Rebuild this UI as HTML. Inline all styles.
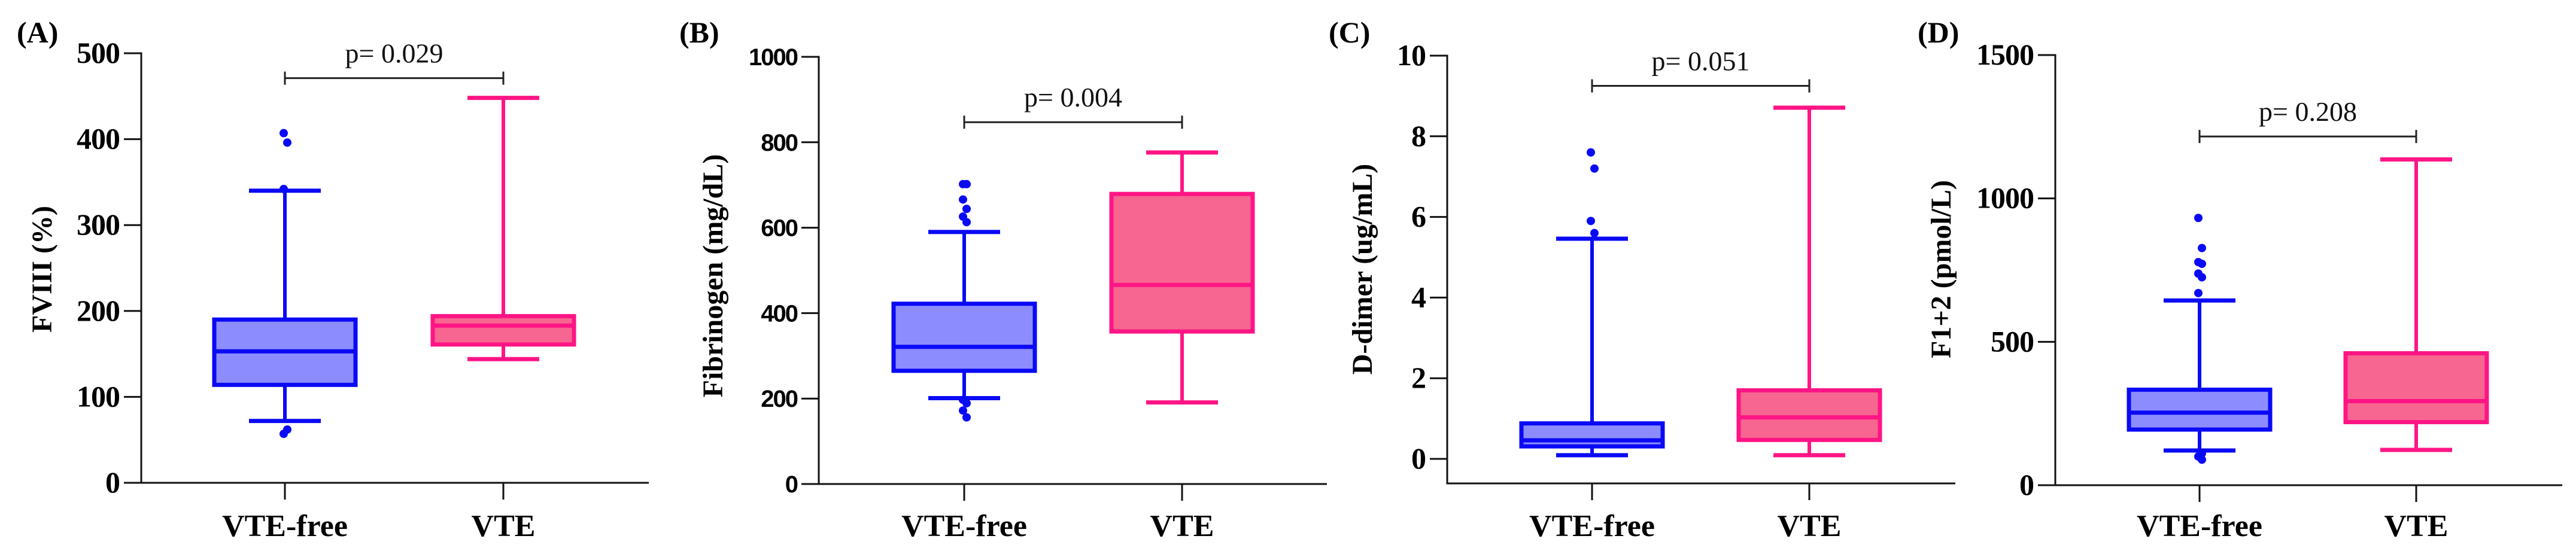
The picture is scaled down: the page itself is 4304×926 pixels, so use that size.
<!DOCTYPE html>
<html><head><meta charset="utf-8"><style>
html,body{margin:0;padding:0;background:#fff;width:4304px;height:926px;overflow:hidden}
svg{display:block}
</style></head><body>
<svg id="fig" xmlns="http://www.w3.org/2000/svg" width="4304" height="926" viewBox="0 0 4304 926"></svg>
<script>
const categories = ["VTE-free", "VTE"];
const panelLetters = ["(A)", "(B)", "(C)", "(D)"];
const yTitles = ["FVIII (%)", "Fibrinogen (mg/dL)", "D-dimer (ug/mL)", "F1+2 (pmol/L)"];
const pLabels = ["p= 0.029", "p= 0.004", "p= 0.051", "p= 0.208"];
const bracketValues = [471, 847, 9.25, 1216];
const yTicksA = [0, 100, 200, 300, 400, 500];
const yTicksB = [0, 200, 400, 600, 800, 1000];
const yTicksC = [0, 2, 4, 6, 8, 10];
const yTicksD = [0, 500, 1000, 1500];
// [VTE-free, VTE]
const whiskerLowA = [72, 144], q1A = [114, 161], medianA = [153, 183], q3A = [190, 194], whiskerHighA = [340, 448];
const outliersA = [[407, 396, 342, 62, 57], []];
const whiskerLowB = [201, 191], q1B = [265, 357], medianB = [321, 466], q3B = [422, 679], whiskerHighB = [590, 776];
const outliersB = [[702, 702, 666, 644, 626, 613, 197, 189, 172, 156], []];
const whiskerLowC = [0.09, 0.09], q1C = [0.31, 0.47], medianC = [0.46, 1.03], q3C = [0.88, 1.70], whiskerHighC = [5.46, 8.71];
const outliersC = [[7.6, 7.2, 5.9, 5.6], []];
const whiskerLowD = [121, 123], q1D = [194, 220], medianD = [253, 293], q3D = [333, 460], whiskerHighD = [644, 1136];
const outliersD = [[932, 827, 778, 772, 738, 725, 670, 111, 100, 89], []];

const layout = [
  {ax:236, zeroY:807, topY:89, max:500, xAxisY:807, xEnd:1084, cx:[476,841], lx:28, tx:70, ty:450, ticks:yTicksA, sans:false},
  {ax:1368, zeroY:809, topY:95, max:1000, xAxisY:809, xEnd:2217, cx:[1611,1975], lx:1135, tx:1191, ty:461, ticks:yTicksB, sans:true},
  {ax:2418, zeroY:767, topY:93, max:10, xAxisY:808, xEnd:3267, cx:[2660,3023], lx:2220, tx:2276, ty:450, ticks:yTicksC, sans:false},
  {ax:3434, zeroY:811, topY:92, max:1500, xAxisY:811, xEnd:4281, cx:[3675,4037], lx:3204, tx:3243, ty:450, ticks:yTicksD, sans:false}
];
const stats = [
  [whiskerLowA,q1A,medianA,q3A,whiskerHighA,outliersA],
  [whiskerLowB,q1B,medianB,q3B,whiskerHighB,outliersB],
  [whiskerLowC,q1C,medianC,q3C,whiskerHighC,outliersC],
  [whiskerLowD,q1D,medianD,q3D,whiskerHighD,outliersD]
];
const NS = "http://www.w3.org/2000/svg";
const svg = document.getElementById('fig');
function mk(tag, attrs, parent, txt){
  const e = document.createElementNS(NS, tag);
  for (const k in attrs) e.setAttribute(k, attrs[k]);
  if (txt !== undefined) e.textContent = txt;
  parent.appendChild(e);
  return e;
}
const SERIF = '"Liberation Serif", serif';
const SANS = '"Liberation Sans", sans-serif';
const strokeCol = ["#0a0af5", "#ff1585"];
const fillCol = ["#8c8cff", "#f76690"];

layout.forEach((L, pi) => {
  const g = mk('g', {}, svg);
  
  
  const y = v => L.zeroY - (v / L.max) * (L.zeroY - L.topY);
  // panel letter
  const lt = mk('text', {x:L.lx, y:71, 'font-family':SERIF, 'font-weight':'bold', 'font-size':50, fill:'#000'}, g, panelLetters[pi]);
  
  
  // y title
  const yt = mk('text', {x:0, y:0, transform:`translate(${L.tx+16},${L.ty}) rotate(-90)`, 'text-anchor':'middle', 'font-family':SERIF, 'font-weight':'bold', 'font-size':48, fill:'#000'}, g, yTitles[pi]);
  
  
  // axes
  const yax = mk('line', {x1:L.ax, y1:y(L.max)-1.5, x2:L.ax, y2:L.xAxisY+1.5, stroke:'#111', 'stroke-width':3}, g);
  
  
  const xax = mk('line', {x1:L.ax, y1:L.xAxisY, x2:L.xEnd, y2:L.xAxisY, stroke:'#111', 'stroke-width':3}, g);
  
  
  L.ticks.forEach(t => {
    const tk = mk('line', {x1:L.ax-29, y1:y(t), x2:L.ax, y2:y(t), stroke:'#111', 'stroke-width':3}, g);
    
    
    const tl = mk('text', {x:L.ax-36, y:y(t)+ (L.sans?14:16), 'text-anchor':'end', 'font-family':L.sans?SANS:SERIF, 'font-weight':'bold', 'font-size':L.sans?40:50, 'letter-spacing':L.sans?-2:-1, fill:'#000'}, g, String(t));
    
    
  });
  categories.forEach((c, ci) => {
    const cx = L.cx[ci];
    const tk = mk('line', {x1:cx, y1:L.xAxisY, x2:cx, y2:L.xAxisY+28, stroke:'#111', 'stroke-width':3}, g);
    
    
    const xl = mk('text', {x:cx, y:896, 'text-anchor':'middle', 'font-family':SERIF, 'font-weight':'bold', 'font-size':52, fill:'#000'}, g, c);
    
    
    const S = stats[pi];
    const lo=S[0][ci], q1=S[1][ci], md=S[2][ci], q3=S[3][ci], hi=S[4][ci], outs=S[5][ci];
    const bg = mk('g', {}, g);
    
    
    const sc = strokeCol[ci], fc = fillCol[ci];
    const w1 = mk('line', {x1:cx, y1:y(hi), x2:cx, y2:y(q3), stroke:sc, 'stroke-width':6}, bg);
    
    
    const w2 = mk('line', {x1:cx, y1:y(q1), x2:cx, y2:y(lo), stroke:sc, 'stroke-width':6}, bg);
    
    
    const c1 = mk('line', {x1:cx-60, y1:y(hi), x2:cx+60, y2:y(hi), stroke:sc, 'stroke-width':7}, bg);
    
    
    const c2 = mk('line', {x1:cx-60, y1:y(lo), x2:cx+60, y2:y(lo), stroke:sc, 'stroke-width':7}, bg);
    
    
    const r = mk('rect', {x:cx-118, y:y(q3), width:236, height:Math.max(1, y(q1)-y(q3)), fill:fc, stroke:sc, 'stroke-width':7}, bg);
    
    
    const m = mk('line', {x1:cx-118, y1:y(md), x2:cx+118, y2:y(md), stroke:sc, 'stroke-width':7}, bg);
    
    
    outs.forEach((o, oi) => {
      const d = mk('circle', {cx:cx + ((oi%2)?4:-2), cy:y(o), r:7, fill:sc}, bg);
      
      
    });
  });
  // significance bracket
  const by = y(bracketValues[pi]);
  const br = mk('g', {}, g);
  
  
  mk('line', {x1:L.cx[0], y1:by, x2:L.cx[1], y2:by, stroke:'#222', 'stroke-width':3}, br);
  mk('line', {x1:L.cx[0], y1:by-11, x2:L.cx[0], y2:by+11, stroke:'#222', 'stroke-width':3}, br);
  mk('line', {x1:L.cx[1], y1:by-11, x2:L.cx[1], y2:by+11, stroke:'#222', 'stroke-width':3}, br);
  const pt = mk('text', {x:(L.cx[0]+L.cx[1])/2, y:by-26, 'text-anchor':'middle', 'font-family':SERIF, 'font-size':46, fill:'#111'}, g, pLabels[pi]);
  
  
});
</script>
</body></html>
